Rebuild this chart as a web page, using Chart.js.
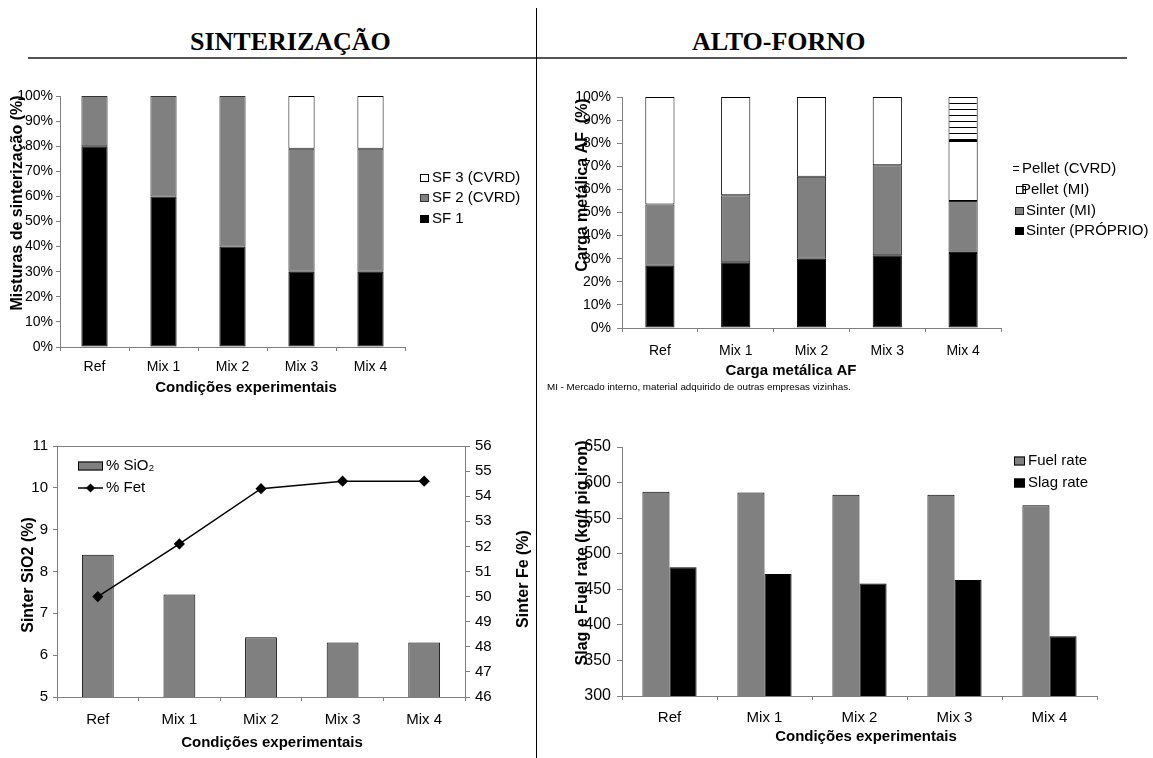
<!DOCTYPE html>
<html><head><meta charset="utf-8">
<script src="https://cdn.jsdelivr.net/npm/chart.js@4.4.1/dist/chart.umd.min.js"></script>
<style>
html,body{margin:0;padding:0;background:#fff;}
body{width:1153px;height:758px;position:relative;overflow:hidden;font-family:"Liberation Sans",Arial,sans-serif;}
.hd{position:absolute;top:27px;font-family:"Liberation Serif","Times New Roman",serif;font-weight:bold;font-size:26px;line-height:30px;color:#000;white-space:nowrap;}
.box{position:absolute;}
canvas{display:block;}
#hline{position:absolute;left:28px;top:57px;width:1099px;height:2px;background:#555;z-index:5;}
#vline{position:absolute;left:536px;top:8px;width:1px;height:750px;background:#000;z-index:5;}
#note{position:absolute;left:547px;top:382px;font-size:9.8px;line-height:10px;color:#000;white-space:nowrap;z-index:5;}
</style></head><body>
<div class="hd" style="left:190px">SINTERIZAÇÃO</div>
<div class="hd" style="left:692px">ALTO-FORNO</div>
<div id="hline"></div>
<div class="box" style="left:0;top:80px"><canvas id="c1" width="537" height="320"></canvas></div>
<div class="box" style="left:540px;top:80px"><canvas id="c2" width="613" height="320"></canvas></div>
<div class="box" style="left:0;top:420px"><canvas id="c3" width="537" height="338"></canvas></div>
<div class="box" style="left:540px;top:420px"><canvas id="c4" width="613" height="338"></canvas></div>
<div id="note">MI - Mercado interno, material adquirido de outras empresas vizinhas.</div>
<div id="vline"></div>
<script>
// ---------- DATA ----------
const categories = ['Ref', 'Mix 1', 'Mix 2', 'Mix 3', 'Mix 4'];
// Sinterização – misturas (%)
const sf1 = [80, 60, 40, 30, 30];
const sf2 = [20, 40, 60, 49, 49];
const sf3 = [0, 0, 0, 21, 21];
// Alto-forno – carga metálica (%)
const sinterProprio = [27, 28.5, 30, 31.5, 32.5];
const sinterMI = [26.5, 29, 35.5, 39, 22.5];
const pelletMI = [46.5, 42.5, 34.5, 29.5, 26];
const pelletCVRD = [0, 0, 0, 0, 19];
// Sinter chemistry
const sio2 = [8.4, 7.45, 6.43, 6.3, 6.3];
const fet = [50.0, 52.1, 54.3, 54.6, 54.6];
// Blast furnace rates (kg/t pig iron)
const fuelRate = [587, 586, 583, 583, 568];
const slagRate = [481, 471.5, 458, 463, 384];

// ---------- STYLE ----------
Chart.defaults.font.family = '"Liberation Sans", Arial, sans-serif';
Chart.defaults.color = '#000';
const AX = '#808080';
const GRAY = '#808080';

function hatchPattern() {
  const c = document.createElement('canvas'); c.width = 8; c.height = 6;
  const x = c.getContext('2d');
  x.fillStyle = '#fff'; x.fillRect(0, 0, 8, 6);
  x.fillStyle = '#000'; x.fillRect(0, 5, 8, 1);
  return x.createPattern(c, 'repeat');
}

const overlay = {
  id: 'overlay',
  afterDraw(chart, args, opts) {
    const ctx = chart.ctx;
    (opts.titles || []).forEach(t => {
      ctx.save();
      ctx.translate(t.x, t.y);
      if (t.rot) ctx.rotate(t.rot);
      ctx.font = t.font; ctx.fillStyle = '#000';
      ctx.textAlign = 'center'; ctx.textBaseline = 'middle';
      ctx.fillText(t.text, 0, 0);
      ctx.restore();
    });
    (opts.legend || []).forEach(it => {
      const ds = chart.data.datasets[it.ds];
      ctx.save();
      if (it.kind === 'box') {
        ctx.fillStyle = ds.backgroundColor;
        ctx.fillRect(it.x, it.y - it.h / 2, it.w, it.h);
        ctx.strokeStyle = ds.borderColor; ctx.lineWidth = 1;
        ctx.strokeRect(it.x + 0.5, it.y - it.h / 2 + 0.5, it.w - 1, it.h - 1);
      } else if (it.kind === 'eq') {
        ctx.fillStyle = '#000';
        ctx.fillRect(it.x, Math.round(it.y) - 3, it.w, 1);
        ctx.fillRect(it.x, Math.round(it.y) + 1, it.w, 1);
      } else if (it.kind === 'line') {
        ctx.strokeStyle = ds.borderColor; ctx.lineWidth = 1.5;
        ctx.beginPath(); ctx.moveTo(it.x, it.y); ctx.lineTo(it.x + it.w, it.y); ctx.stroke();
        const cx = it.x + it.w / 2, r = 4.5;
        ctx.fillStyle = '#000';
        ctx.beginPath(); ctx.moveTo(cx, it.y - r); ctx.lineTo(cx + r, it.y); ctx.lineTo(cx, it.y + r); ctx.lineTo(cx - r, it.y); ctx.closePath(); ctx.fill();
      }
      ctx.fillStyle = '#000';
      ctx.font = it.font || '15px "Liberation Sans", Arial, sans-serif';
      ctx.textAlign = 'left'; ctx.textBaseline = 'middle';
      ctx.fillText(ds.label, it.tx, it.y);
      ctx.restore();
    });
  }
};

function xAxis(h, pad, size, extra) {
  return Object.assign({
    grid: { display: true, drawOnChartArea: false, drawTicks: true, tickLength: 4, color: AX, offset: true },
    border: { display: true, color: AX, width: 1 },
    ticks: { padding: pad, font: { size: size }, color: '#000' },
    afterFit: s => { s.height = h; }
  }, extra || {});
}
function yAxis(w, tl, pad, size, extra) {
  return Object.assign({
    grid: { display: true, drawOnChartArea: false, drawTicks: true, tickLength: tl, color: AX },
    border: { display: true, color: AX, width: 1 },
    afterFit: s => { s.width = w; }
  }, extra || {}, { ticks: Object.assign({ padding: pad, font: { size: size }, color: '#000' }, (extra && extra.ticks) || {}) });
}
const pct = v => v + '%';
const R = -Math.PI / 2;
const YT = 'bold 16px "Liberation Sans", Arial, sans-serif';
const XT = 'bold 15px "Liberation Sans", Arial, sans-serif';
const common = { responsive: false, animation: false, events: [] };

// ---------- CHART 1: Misturas de sinterização ----------
new Chart(document.getElementById('c1'), {
  type: 'bar',
  data: { labels: categories, datasets: [
    { label: 'SF 1', data: sf1, backgroundColor: '#000', borderColor: '#000' },
    { label: 'SF 2 (CVRD)', data: sf2, backgroundColor: GRAY, borderColor: '#333' },
    { label: 'SF 3 (CVRD)', data: sf3, backgroundColor: '#fff', borderColor: '#000' }
  ].map(d => Object.assign({ borderWidth: 1, borderSkipped: false, barPercentage: 0.38, categoryPercentage: 1 }, d)) },
  options: Object.assign({}, common, {
    layout: { padding: { left: 0, top: 16, right: 132, bottom: 0 } },
    scales: {
      x: xAxis(53, 8, 14, { stacked: true }),
      y: yAxis(60, 4, 3, 14, { stacked: true, min: 0, max: 100, ticks: { stepSize: 10, callback: pct } })
    },
    plugins: { legend: { display: false }, tooltip: { enabled: false },
      overlay: {
        titles: [
          { text: 'Misturas de sinterização (%)', x: 18, y: 123, rot: R, font: YT },
          { text: 'Condições experimentais', x: 246, y: 308, font: XT }
        ],
        legend: [
          { ds: 2, kind: 'box', x: 420, y: 98, w: 9, h: 8, tx: 432 },
          { ds: 1, kind: 'box', x: 420, y: 118, w: 9, h: 8, tx: 432 },
          { ds: 0, kind: 'box', x: 420, y: 139, w: 9, h: 8, tx: 432 }
        ]
      } }
  }),
  plugins: [overlay]
});

// ---------- CHART 2: Carga metálica AF ----------
new Chart(document.getElementById('c2'), {
  type: 'bar',
  data: { labels: categories, datasets: [
    { label: 'Sinter (PRÓPRIO)', data: sinterProprio, backgroundColor: '#000', borderColor: '#000' },
    { label: 'Sinter (MI)', data: sinterMI, backgroundColor: GRAY, borderColor: '#222' },
    { label: 'Pellet (MI)', data: pelletMI, backgroundColor: '#fff', borderColor: '#000' },
    { label: 'Pellet (CVRD)', data: pelletCVRD, backgroundColor: hatchPattern(), borderColor: '#000' }
  ].map(d => Object.assign({ borderWidth: 1, borderSkipped: false, barPercentage: 0.385, categoryPercentage: 1 }, d)) },
  options: Object.assign({}, common, {
    layout: { padding: { left: 0, top: 17, right: 152, bottom: 0 } },
    scales: {
      x: xAxis(72, 11, 14, { stacked: true }),
      y: yAxis(82, 5, 6, 14, { stacked: true, min: 0, max: 100, ticks: { stepSize: 10, callback: pct } })
    },
    plugins: { legend: { display: false }, tooltip: { enabled: false },
      overlay: {
        titles: [
          { text: 'Carga metálica AF  (%)', x: 43, y: 105, rot: R, font: YT },
          { text: 'Carga metálica AF', x: 251, y: 291, font: XT }
        ],
        legend: [
          { ds: 3, kind: 'eq', x: 473, y: 89, w: 6, tx: 482 },
          { ds: 2, kind: 'box', x: 476, y: 110, w: 10, h: 8, tx: 481 },
          { ds: 1, kind: 'box', x: 475, y: 131, w: 9, h: 8, tx: 486 },
          { ds: 0, kind: 'box', x: 475, y: 151, w: 9, h: 8, tx: 486 }
        ]
      } }
  }),
  plugins: [overlay]
});

// ---------- CHART 3: SiO2 / Fe ----------
new Chart(document.getElementById('c3'), {
  type: 'bar',
  data: { labels: categories, datasets: [
    { type: 'line', label: '% Fet', data: fet, yAxisID: 'y1', borderColor: '#000', backgroundColor: '#000',
      borderWidth: 1.5, pointStyle: 'rectRot', pointRadius: 4.5, pointBackgroundColor: '#000', pointBorderColor: '#000', order: 0, tension: 0 },
    { label: '% SiO₂', data: sio2, yAxisID: 'y', backgroundColor: GRAY, borderColor: '#000', borderWidth: 1,
      borderSkipped: false, barPercentage: 0.39, categoryPercentage: 1, order: 1 }
  ] },
  options: Object.assign({}, common, {
    layout: { padding: { left: 0, top: 26, right: 0, bottom: 0 } },
    scales: {
      x: xAxis(61, 10, 15),
      x2: { type: 'category', labels: categories, position: 'top', grid: { display: false }, ticks: { display: false },
        border: { display: true, color: AX, width: 1 }, afterFit: s => { s.height = 0; } },
      y: yAxis(57, 4, 5, 15, { position: 'left', min: 5, max: 11, ticks: { stepSize: 1 } }),
      y1: yAxis(72, 5, 5, 15, { position: 'right', min: 46, max: 56, ticks: { stepSize: 1 } })
    },
    plugins: { legend: { display: false }, tooltip: { enabled: false },
      overlay: {
        titles: [
          { text: 'Sinter SiO2 (%)', x: 29, y: 155, rot: R, font: YT },
          { text: 'Sinter Fe (%)', x: 524, y: 159, rot: R, font: YT },
          { text: 'Condições experimentais', x: 272, y: 323, font: XT }
        ],
        legend: [
          { ds: 1, kind: 'box', x: 78, y: 46, w: 25, h: 9, tx: 106 },
          { ds: 0, kind: 'line', x: 78, y: 68, w: 25, tx: 106 }
        ]
      } }
  }),
  plugins: [overlay]
});

// ---------- CHART 4: Fuel / Slag rate ----------
new Chart(document.getElementById('c4'), {
  type: 'bar',
  data: { labels: categories, datasets: [
    { label: 'Fuel rate', data: fuelRate, backgroundColor: GRAY, borderColor: '#000' },
    { label: 'Slag rate', data: slagRate, backgroundColor: '#000', borderColor: '#000' }
  ].map(d => Object.assign({ borderWidth: 1, borderSkipped: false, barPercentage: 1, categoryPercentage: 0.57 }, d)) },
  options: Object.assign({}, common, {
    layout: { padding: { left: 0, top: 27, right: 56, bottom: 0 } },
    scales: {
      x: xAxis(62, 9, 15),
      y: yAxis(82, 5, 6, 16, { min: 300, max: 650, ticks: { stepSize: 50 } })
    },
    plugins: { legend: { display: false }, tooltip: { enabled: false },
      overlay: {
        titles: [
          { text: 'Slag e Fuel rate (kg/t pig iron)', x: 43, y: 133, rot: R, font: YT },
          { text: 'Condições experimentais', x: 326, y: 317, font: XT }
        ],
        legend: [
          { ds: 0, kind: 'box', x: 474, y: 41, w: 11, h: 9, tx: 488 },
          { ds: 1, kind: 'box', x: 474, y: 63, w: 11, h: 9, tx: 488 }
        ]
      } }
  }),
  plugins: [overlay]
});
</script>
</body></html>
